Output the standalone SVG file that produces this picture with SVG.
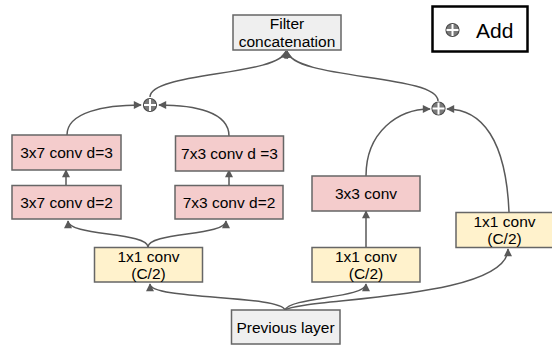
<svg xmlns="http://www.w3.org/2000/svg" width="552" height="345" viewBox="0 0 552 345">
<defs>
<style>
.box{stroke:#666666;stroke-width:1.5}
.pink{fill:#f4cccc}
.yel{fill:#fff2cc}
.gray{fill:#efefef}
.t{font-family:"Liberation Sans",Arial,sans-serif;font-size:15.5px;fill:#000;text-anchor:middle}
.c{fill:none;stroke:#595959;stroke-width:1.5}
.addc{fill:#7a7a7a;stroke:#4a4a4a;stroke-width:1.2}
.addx{stroke:#ffffff;stroke-width:2}
</style>
<marker id="ah" viewBox="0 0 10 10" refX="9" refY="5" markerWidth="9" markerHeight="8" markerUnits="userSpaceOnUse" orient="auto">
<path d="M0,0 L10,5 L0,10 Z" fill="#595959"/>
</marker>
<g id="plus">
<circle r="6.5" class="addc"/>
<line x1="-6" y1="0" x2="6" y2="0" class="addx"/>
<line x1="0" y1="-6" x2="0" y2="6" class="addx"/>
</g>
</defs>
<rect width="552" height="345" fill="#ffffff"/>

<g id="connectors">
<path class="c" marker-end="url(#ah)" d="M285,310 C280,295 150,300 150,284"/>
<path class="c" marker-end="url(#ah)" d="M285,310 C290,297 366,298 366,284"/>
<path class="c" marker-end="url(#ah)" d="M285,310 C300,298 508,300 508,249"/>
<path class="c" marker-end="url(#ah)" d="M148,247 C148,232 68,236 68,221"/>
<path class="c" marker-end="url(#ah)" d="M148,247 C148,232 226,236 226,221"/>
<path class="c" marker-end="url(#ah)" d="M66,185 L66,170"/>
<path class="c" marker-end="url(#ah)" d="M229,185 L229,170"/>
<path class="c" marker-end="url(#ah)" d="M366,247 L366,211"/>
<path class="c" marker-end="url(#ah)" d="M67,135 C67,112 105,105 141,105"/>
<path class="c" marker-end="url(#ah)" d="M229,136 C229,112 195,105 159,105"/>
<path class="c" marker-end="url(#ah)" d="M366,176 C366,132 398,109 430,109"/>
<path class="c" marker-end="url(#ah)" d="M509,212 C506,140 482,109 447,109"/>
<path class="c" marker-end="url(#ah)" d="M150,97 C150,72 280,76 286,51"/>
<path class="c" marker-end="url(#ah)" d="M438,101 C438,74 292,80 287,51"/>
</g>

<g id="add-left"><use href="#plus" x="150" y="105"/></g>
<g id="add-right"><use href="#plus" x="438.5" y="108.5"/></g>

<g id="filter-concat">
<rect x="233" y="15" width="108" height="35" class="box gray"/>
<text class="t" x="287" y="28.5">Filter</text>
<text class="t" x="287" y="46.5">concatenation</text>
</g>

<g id="legend">
<rect x="432.5" y="6.5" width="95" height="45" fill="#ffffff" stroke="#000000" stroke-width="2.5"/>
<use href="#plus" x="452.5" y="30"/>
<text x="476" y="38" font-family="'Liberation Sans',Arial,sans-serif" font-size="21" fill="#000">Add</text>
</g>

<g id="conv37d3">
<rect x="12" y="135" width="109" height="35" class="box pink"/>
<text class="t" x="66.5" y="158">3x7 conv d=3</text>
</g>
<g id="conv73d3">
<rect x="175.5" y="136" width="108" height="35" class="box pink"/>
<text class="t" x="229.5" y="158.5">7x3 conv d =3</text>
</g>
<g id="conv37d2">
<rect x="12" y="185.5" width="109" height="33.5" class="box pink"/>
<text class="t" x="66.5" y="208">3x7 conv d=2</text>
</g>
<g id="conv73d2">
<rect x="175" y="185.5" width="108" height="33.5" class="box pink"/>
<text class="t" x="229" y="208">7x3 conv d=2</text>
</g>
<g id="conv33">
<rect x="312" y="176" width="108" height="35" class="box pink"/>
<text class="t" x="366" y="199">3x3 conv</text>
</g>
<g id="conv11-left">
<rect x="94.5" y="247.5" width="108" height="34.5" class="box yel"/>
<text class="t" x="148.5" y="262">1x1 conv</text>
<text class="t" x="148.5" y="279">(C/2)</text>
</g>
<g id="conv11-mid">
<rect x="312" y="247.5" width="108" height="34.5" class="box yel"/>
<text class="t" x="366" y="261.5">1x1 conv</text>
<text class="t" x="366" y="278.5">(C/2)</text>
</g>
<g id="conv11-right">
<rect x="456" y="212.5" width="100" height="35" class="box yel"/>
<text class="t" x="504.5" y="226.5">1x1 conv</text>
<text class="t" x="504.5" y="243.5">(C/2)</text>
</g>
<g id="prev-layer">
<rect x="231.5" y="310" width="108.5" height="34" class="box gray"/>
<text class="t" x="285.5" y="333">Previous layer</text>
</g>
</svg>
